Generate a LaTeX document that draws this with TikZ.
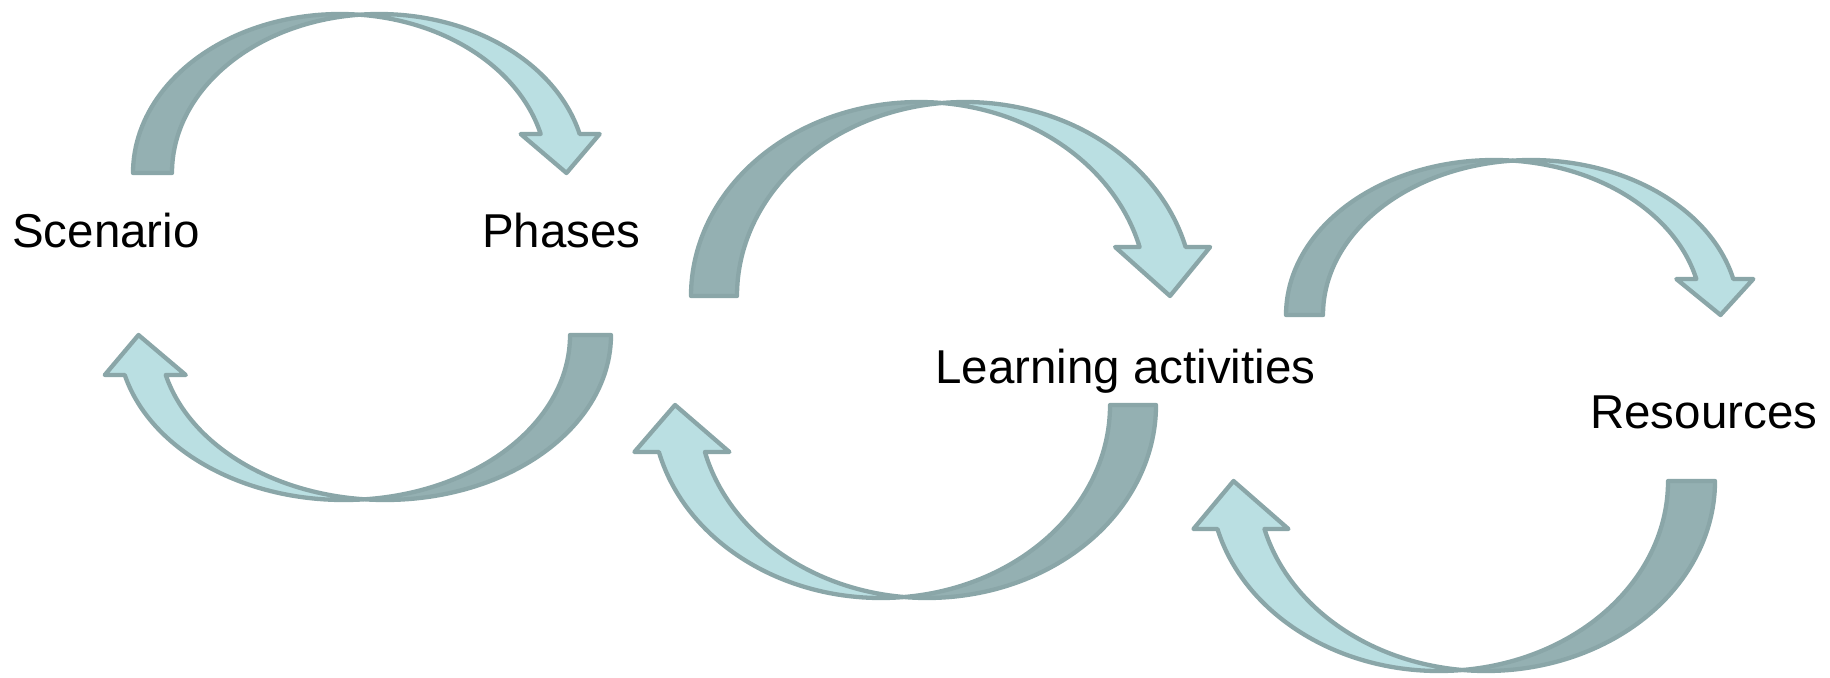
\documentclass[tikz,border=0pt]{standalone}
\usepackage{fontspec}
\setmainfont{Liberation Sans}
\usepackage{tikz}

\definecolor{backteal}{RGB}{148,176,178}
\definecolor{frontteal}{RGB}{186,223,226}
\definecolor{edgeteal}{RGB}{138,166,168}

\tikzset{
  frontpart/.style={fill=frontteal,draw=edgeteal,line width=4.3pt,line join=round},
  backpart/.style={fill=backteal,draw=edgeteal,line width=4.3pt,line join=round},
  labeltext/.style={font=\fontsize{47.5pt}{56pt}\selectfont,inner sep=0pt,anchor=base west}
}

% #1 tail corner, #2 turn, #3 half width, #4 height, #5 band, #6 head width, #7 head length
\newcommand{\bentarrow}[7]{%
  \begin{scope}[shift={#1},rotate=#2]
    \pgfmathsetmacro{\crossang}{acos(#5/(2*#3))}
    \pgfmathsetmacro{\crossx}{#3+#5/2}
    \pgfmathsetmacro{\crossy}{#4*sin(\crossang)}
    \pgfmathsetmacro{\headang}{asin(#7/#4)}
    \pgfmathsetmacro{\shaftx}{#3+#3*cos(\headang)}
    \pgfmathsetmacro{\barb}{(#6-#5)/2}
    \pgfmathsetmacro{\tipx}{2*#3+#5/2}
    \filldraw[frontpart] (\crossx,\crossy)
      arc[start angle=180-\crossang, end angle=\headang, x radius=#3pt, y radius=#4pt]
      -- ++(\barb,0) -- (\tipx,0) -- (\shaftx-\barb,#7) -- (\shaftx,#7)
      arc[start angle=\headang, end angle=\crossang, x radius=#3pt, y radius=#4pt] -- cycle;
    \filldraw[backpart] (0,0)
      arc[start angle=180, end angle=\crossang, x radius=#3pt, y radius=#4pt]
      arc[start angle=180-\crossang, end angle=180, x radius=#3pt, y radius=#4pt] -- cycle;
  \end{scope}}

\begin{document}
\begin{tikzpicture}[x=1pt,y=1pt]
  \useasboundingbox (0,0) rectangle (1830,-677);
  \node[labeltext] (scenario) at (12,-247) {Scenario};
  \node[labeltext] (phases) at (482,-247) {Phases};
  \node[labeltext] (activities) at (935,-383) {Learning activities};
  \node[labeltext] (resources) at (1590,-428) {Resources};
  \bentarrow{(133,-173)}{0}{207}{159}{39}{79}{39}
  \bentarrow{(611,-335)}{180}{226}{165}{41}{81}{40}
  \bentarrow{(691,-296)}{0}{228}{194}{46}{95}{49}
  \bentarrow{(1156,-405)}{180}{229}{193}{46}{95}{47}
  \bentarrow{(1286,-315)}{0}{208}{155}{37}{77}{36}
  \bentarrow{(1715,-481)}{180}{229}{190}{47}{95}{48}
\end{tikzpicture}
\end{document}
